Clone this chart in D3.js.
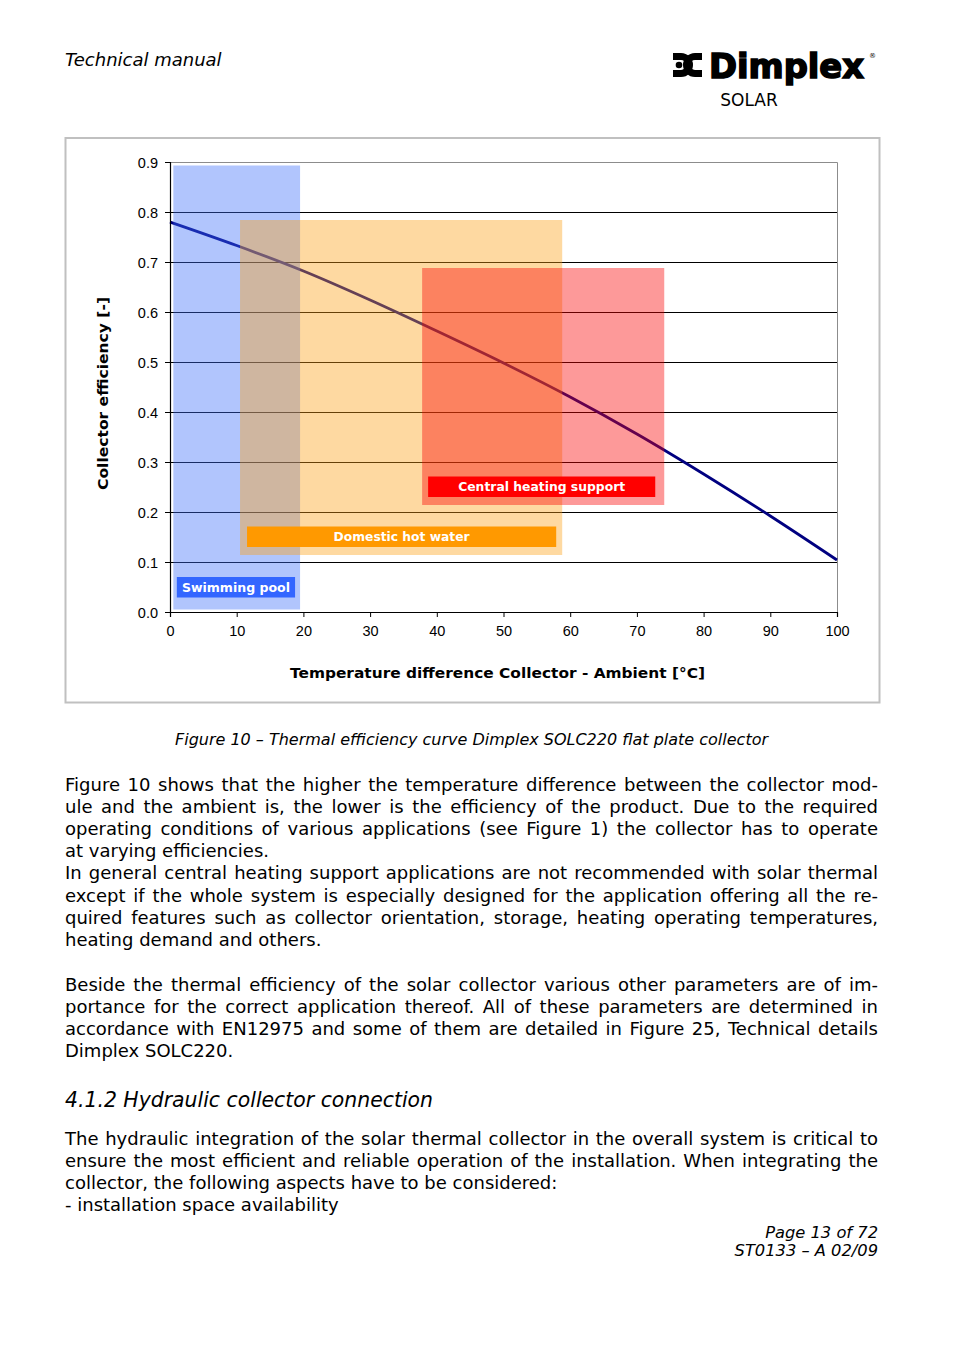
<!DOCTYPE html>
<html>
<head>
<meta charset="utf-8">
<script src="https://cdn.jsdelivr.net/npm/d3@7"></script>
<style>
  html, body { margin: 0; padding: 0; background: #fff; }
  svg { display: block; }
  text { fill: #000; }
</style>
</head>
<body>
<div id="page"></div>
<script>
// --- chart data ---
const tempDiff = [0, 10, 20, 30, 40, 50, 60, 70, 80, 90, 100];
const efficiency = [0.780, 0.733, 0.682, 0.624, 0.562, 0.498, 0.430, 0.356, 0.276, 0.192, 0.104];

const yTicks = [0, 0.1, 0.2, 0.3, 0.4, 0.5, 0.6, 0.7, 0.8, 0.9];
const xTicks = [0, 10, 20, 30, 40, 50, 60, 70, 80, 90, 100];
const gridValues = [0.1, 0.2, 0.3, 0.4, 0.5, 0.6, 0.7, 0.8];

// application zones
const zoneNames = ["Swimming pool", "Domestic hot water", "Central heating support"];
const zoneTempFrom = [0.5, 10.5, 37.8];
const zoneTempTo = [19.5, 58.8, 74.1];
const zoneEffFrom = [0.005, 0.114, 0.214];
const zoneEffTo = [0.893, 0.784, 0.688];

const xTitle = "Temperature difference Collector - Ambient [°C]";
const yTitle = "Collector efficiency [-]";
const caption = "Figure 10 – Thermal efficiency curve Dimplex SOLC220 flat plate collector";

// page text, one entry per printed line; true = justified line
const para1 = [
  ["Figure 10 shows that the higher the temperature difference between the collector mod-", true],
  ["ule and the ambient is, the lower is the efficiency of the product. Due to the required", true],
  ["operating conditions of various applications (see Figure 1) the collector has to operate", true],
  ["at varying efficiencies.", false],
  ["In general central heating support applications are not recommended with solar thermal", true],
  ["except if the whole system is especially designed for the application offering all the re-", true],
  ["quired features such as collector orientation, storage, heating operating temperatures,", true],
  ["heating demand and others.", false]
];
const para2 = [
  ["Beside the thermal efficiency of the solar collector various other parameters are of im-", true],
  ["portance for the correct application thereof. All of these parameters are determined in", true],
  ["accordance with EN12975 and some of them are detailed in Figure 25, Technical details", true],
  ["Dimplex SOLC220.", false]
];
const heading = "4.1.2 Hydraulic collector connection";
const para3 = [
  ["The hydraulic integration of the solar thermal collector in the overall system is critical to", true],
  ["ensure the most efficient and reliable operation of the installation. When integrating the", true],
  ["collector, the following aspects have to be considered:", false],
  ["- installation space availability", false]
];
const footer = ["Page 13 of 72", "ST0133 – A 02/09"];

// --- styles ---
const zoneFill = ["rgb(60,110,250)", "rgb(252,160,20)", "rgb(250,0,0)"];
const zoneLabelFill = ["#3366ff", "#ff9900", "#ff0000"];
const zoneLabelWidth = [108, 136, 167];
const zoneLabelInset = [[3.5, 5, 12], [7, 6, 8], [6, 9, 8]]; // left, right, bottom (px)

const W = 954, H = 1355;
const svg = d3.select("#page").append("svg").attr("width", W).attr("height", H);

const bodyFont = "'DejaVu Sans', Verdana, sans-serif";

// header
svg.append("text").attr("x", 65).attr("y", 66)
  .style("font-family", bodyFont).style("font-style", "italic").style("font-size", "18px")
  .text("Technical manual");

// logo
const logo = svg.append("g");
const ring = d3.arc().innerRadius(5).outerRadius(12);
logo.append("path").attr("transform", "translate(681,65)")
  .attr("d", ring({startAngle: 0, endAngle: Math.PI})).attr("fill", "#000");
logo.append("rect").attr("x", 673).attr("y", 53).attr("width", 8).attr("height", 7).attr("fill", "#000");
logo.append("rect").attr("x", 673).attr("y", 70).attr("width", 8).attr("height", 7).attr("fill", "#000");
logo.append("circle").attr("cx", 679).attr("cy", 65).attr("r", 3.3).attr("fill", "#000");
logo.append("path").attr("transform", "translate(695,65)")
  .attr("d", ring({startAngle: Math.PI, endAngle: 2 * Math.PI})).attr("fill", "#000");
logo.append("rect").attr("x", 695).attr("y", 53).attr("width", 7).attr("height", 7).attr("fill", "#000");
logo.append("rect").attr("x", 695).attr("y", 70).attr("width", 7).attr("height", 7).attr("fill", "#000");
logo.append("text").attr("x", 709).attr("y", 78)
  .attr("textLength", 155).attr("lengthAdjust", "spacingAndGlyphs")
  .style("font-family", "'DejaVu Sans', sans-serif").style("font-weight", "bold").style("font-size", "34px")
  .style("stroke", "#000").style("stroke-width", "1.6px")
  .text("Dimplex");
logo.append("text").attr("x", 869).attr("y", 58)
  .style("font-family", "'DejaVu Sans', sans-serif").style("font-size", "7px").text("®");
logo.append("text").attr("x", 749).attr("y", 106).attr("text-anchor", "middle")
  .style("font-family", bodyFont).style("font-size", "17px").text("SOLAR");

// chart frame
svg.append("rect").attr("x", 65.5).attr("y", 138).attr("width", 814).attr("height", 564.5)
  .attr("fill", "#fff").attr("stroke", "#c0c0c0").attr("stroke-width", 2);

const x = d3.scaleLinear().domain([0, 100]).range([170, 837]);
const y = d3.scaleLinear().domain([0, 0.9]).range([612, 162]);

const plot = svg.append("g");

// plot border (top / right)
plot.append("path")
  .attr("d", `M${x(0)},${y(0.9) + 0.5}H${x(100) + 0.5}V${y(0)}`)
  .attr("fill", "none").attr("stroke", "#8c8c8c").attr("stroke-width", 1);

// gridlines
plot.selectAll(".grid").data(gridValues).join("line")
  .attr("class", "grid")
  .attr("x1", x(0)).attr("x2", x(100))
  .attr("y1", d => Math.round(y(d)) + 0.5).attr("y2", d => Math.round(y(d)) + 0.5)
  .attr("stroke", "#000").attr("stroke-width", 1);

// efficiency curve
const line = d3.line().x((d, i) => x(tempDiff[i])).y(d => y(d)).curve(d3.curveMonotoneX);
plot.append("path").datum(efficiency)
  .attr("d", line).attr("fill", "none")
  .attr("stroke", "#000080").attr("stroke-width", 2.8);

// zones (semi-transparent, over the curve)
plot.selectAll(".zone").data(zoneNames).join("rect")
  .attr("class", "zone")
  .attr("x", (d, i) => x(zoneTempFrom[i]))
  .attr("width", (d, i) => x(zoneTempTo[i]) - x(zoneTempFrom[i]))
  .attr("y", (d, i) => y(zoneEffTo[i]))
  .attr("height", (d, i) => y(zoneEffFrom[i]) - y(zoneEffTo[i]))
  .attr("fill", (d, i) => zoneFill[i]).attr("fill-opacity", 0.4);

// zone labels
zoneNames.forEach((name, i) => {
  const [l, r, b] = zoneLabelInset[i];
  const x0 = x(zoneTempFrom[i]) + l, x1 = x(zoneTempTo[i]) - r;
  const yb = y(zoneEffFrom[i]) - b;
  plot.append("rect").attr("x", x0).attr("y", yb - 20.5).attr("width", x1 - x0).attr("height", 20.5)
    .attr("fill", zoneLabelFill[i]);
  plot.append("text").attr("x", (x0 + x1) / 2).attr("y", yb - 6)
    .attr("text-anchor", "middle")
    .attr("textLength", zoneLabelWidth[i]).attr("lengthAdjust", "spacingAndGlyphs")
    .style("font-family", "'DejaVu Sans', sans-serif").style("font-weight", "bold").style("font-size", "12px")
    .style("fill", "#fff")
    .text(name);
});

// axes
const tickFont = "'Liberation Sans', Arial, sans-serif";
const yAxis = svg.append("g").attr("transform", `translate(${x(0)},0)`)
  .call(d3.axisLeft(y).tickValues(yTicks).tickFormat(d3.format(".1f")).tickSize(5).tickPadding(7));
const xAxis = svg.append("g").attr("transform", `translate(0,${y(0)})`)
  .call(d3.axisBottom(x).tickValues(xTicks).tickFormat(d3.format("d")).tickSize(5).tickPadding(9));
[yAxis, xAxis].forEach(a => {
  a.select(".domain").attr("stroke", "#000").attr("stroke-width", 1.2);
  a.selectAll(".tick line").attr("stroke", "#000");
  a.selectAll(".tick text").style("font-family", tickFont).style("font-size", "14.5px").style("fill", "#000");
});
yAxis.selectAll(".tick text").attr("dy", "0.35em");

// axis titles
svg.append("text").attr("transform", "translate(108,393.5) rotate(-90)")
  .attr("text-anchor", "middle")
  .attr("textLength", 193).attr("lengthAdjust", "spacingAndGlyphs")
  .style("font-family", "'DejaVu Sans', Verdana, sans-serif").style("font-weight", "bold").style("font-size", "14.5px")
  .text(yTitle);
svg.append("text").attr("x", 497.5).attr("y", 678)
  .attr("text-anchor", "middle")
  .attr("textLength", 415).attr("lengthAdjust", "spacingAndGlyphs")
  .style("font-family", "'DejaVu Sans', Verdana, sans-serif").style("font-weight", "bold").style("font-size", "14.5px")
  .text(xTitle);

// caption
svg.append("text").attr("x", 175).attr("y", 745)
  .attr("textLength", 593).attr("lengthAdjust", "spacingAndGlyphs")
  .style("font-family", "'DejaVu Sans Condensed', 'DejaVu Sans', sans-serif").style("font-style", "italic").style("font-size", "16px")
  .text(caption);

// body text
const textLeft = 65, textWidth = 813;
function drawLines(lines, firstBaseline, step) {
  lines.forEach(([str, justify], i) => {
    const t = svg.append("text").attr("x", textLeft).attr("y", firstBaseline + i * step)
      .style("font-family", bodyFont).style("font-size", "18px")
      .text(str);
    if (justify) {
      const w = t.node().getComputedTextLength();
      const n = (str.match(/ /g) || []).length;
      if (n) t.style("word-spacing", ((textWidth - w) / n) + "px");
    }
  });
}
drawLines(para1, 791, 22.1);
drawLines(para2, 991, 22);
svg.append("text").attr("x", textLeft).attr("y", 1107)
  .style("font-family", bodyFont).style("font-style", "italic").style("font-size", "20.4px")
  .text(heading);
drawLines(para3, 1145, 22);

// footer
footer.forEach((s, i) => {
  svg.append("text").attr("x", 878).attr("y", 1238 + i * 18).attr("text-anchor", "end")
    .style("font-family", bodyFont).style("font-style", "italic").style("font-size", "16.3px")
    .text(s);
});
</script>
</body>
</html>
